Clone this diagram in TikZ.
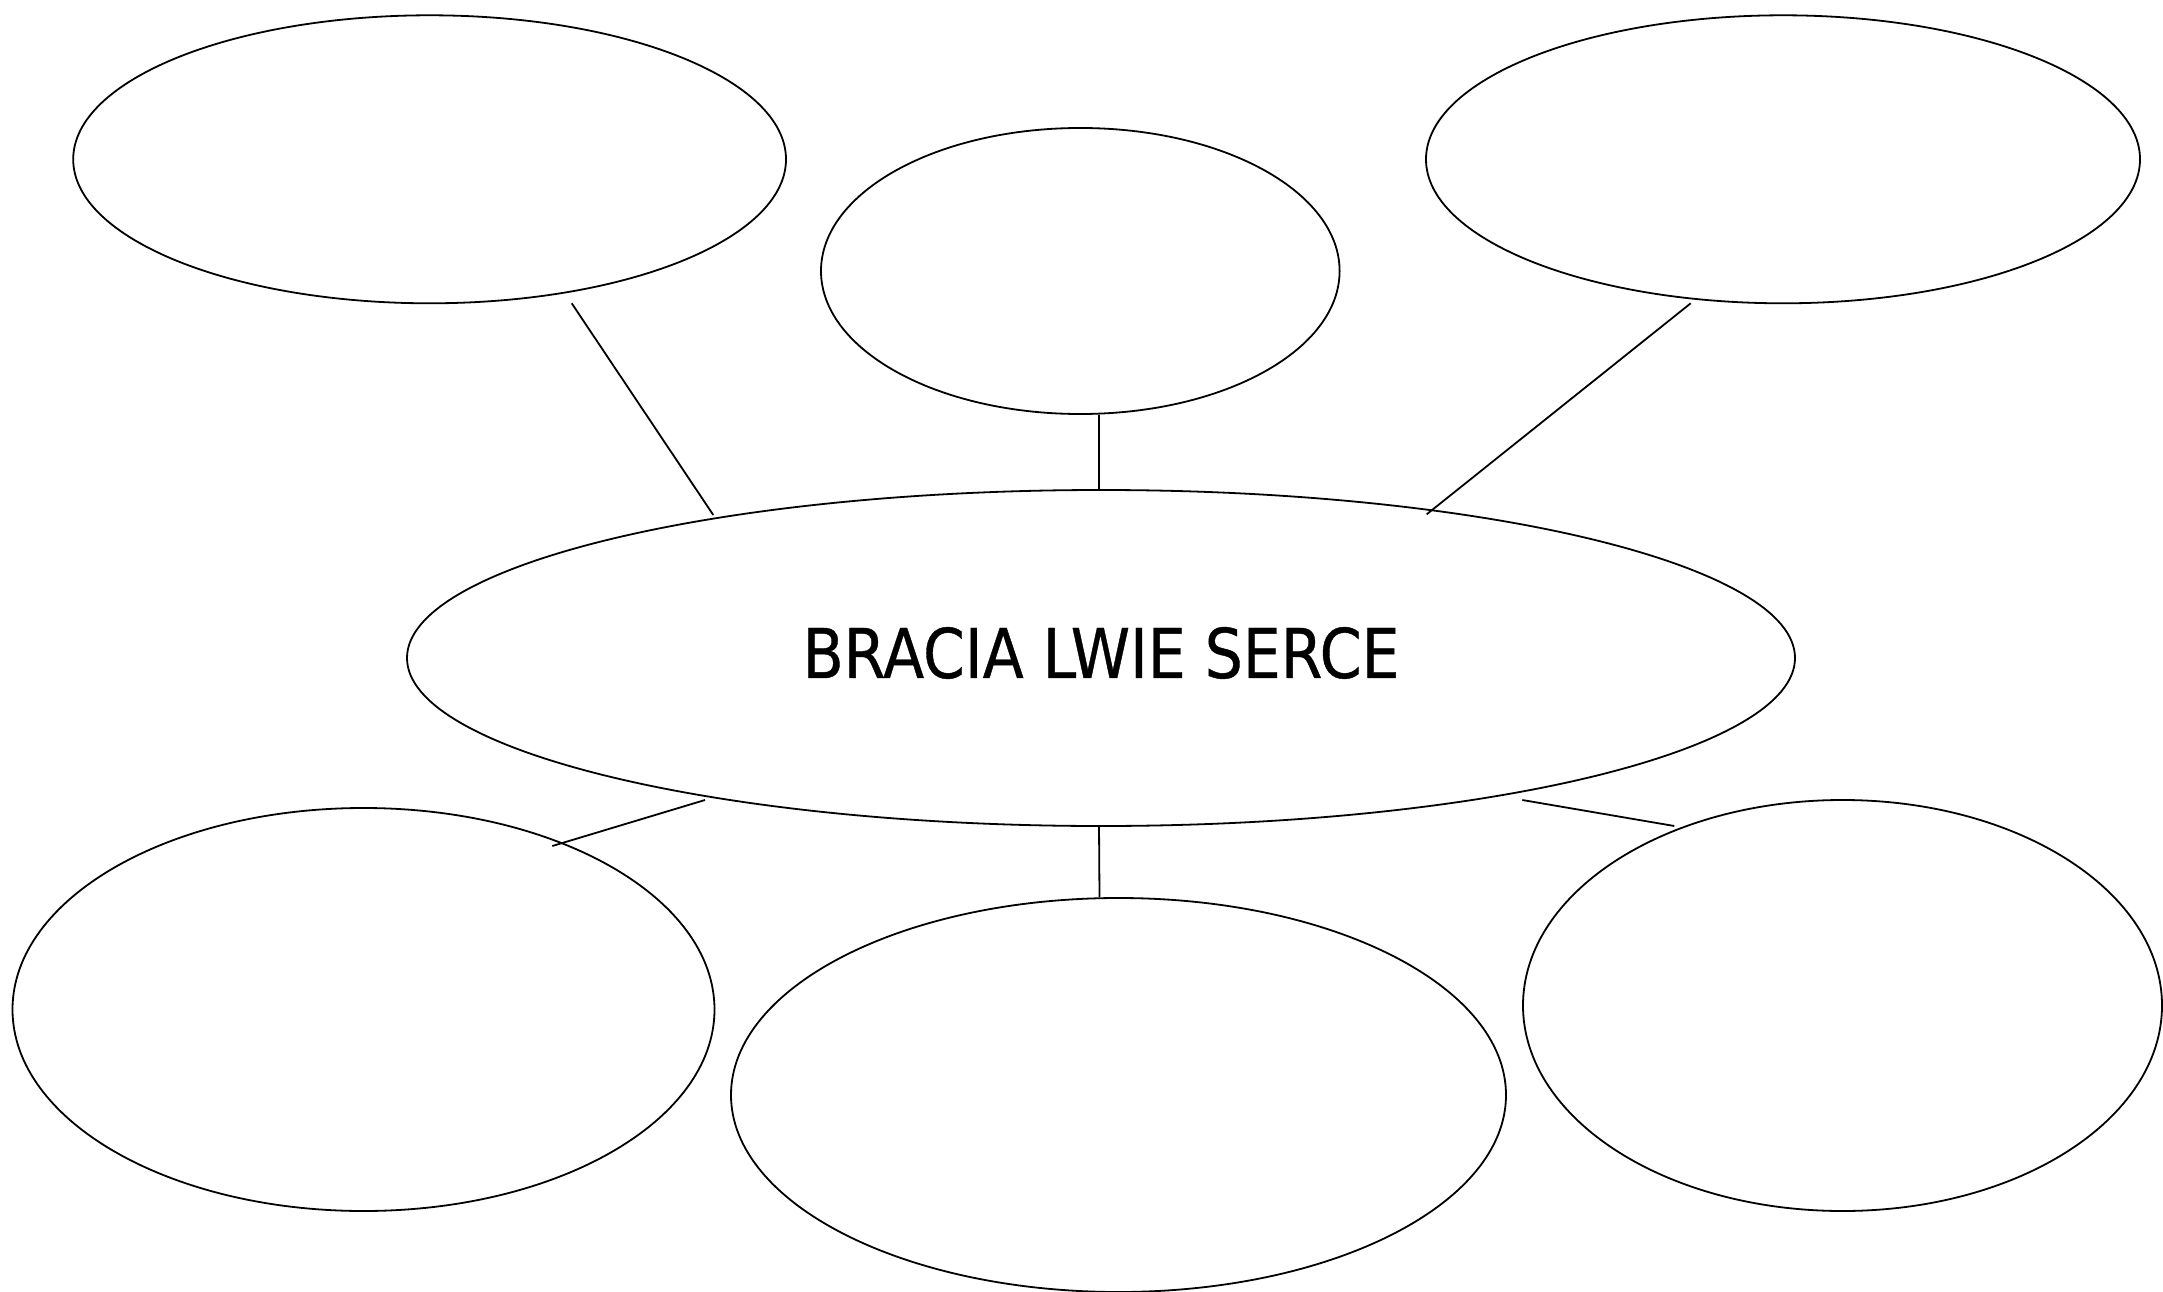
\documentclass[tikz,border=0pt]{standalone}
\usepackage{fontspec}
\setmainfont{DejaVu Sans}
\newfontfamily\titlefont[FakeBold=0.6]{DejaVu Sans}
\usetikzlibrary{shapes.geometric}
\tikzset{
  bubble/.style={draw=black, line width=1.8pt, ellipse, inner sep=0pt, outer sep=0pt},
  link/.style={draw=black, line width=1.8pt},
}
\begin{document}
\begin{tikzpicture}[x=1pt,y=-1pt]
\useasboundingbox (0,0) rectangle (2163,1292);
\fill[white] (0,0) rectangle (2163,1292);
% ellipses
\node[bubble, minimum width=712.8pt, minimum height=288pt] (tl) at (429.6,159.3) {};
\node[bubble, minimum width=518.6pt, minimum height=286pt] (tm) at (1080.3,271) {};
\node[bubble, minimum width=714pt, minimum height=288pt] (tr) at (1783,159.3) {};
\node[bubble, minimum width=1388pt, minimum height=336pt] (c) at (1101,658) {};
\node[bubble, minimum width=702pt, minimum height=403pt] (bl) at (363.5,1009.5) {};
\node[bubble, minimum width=775pt, minimum height=394pt] (bm) at (1118.5,1095) {};
\node[bubble, minimum width=639pt, minimum height=411pt] (br) at (1842.5,1005.5) {};
% title
\node[inner sep=0pt] (title) at (1101,653) {\titlefont\fontsize{68.6}{80}\selectfont\scalebox{0.875}[1]{BRACIA LWIE SERCE}};
% connector end points
\coordinate (a1) at (571.7,303.3); \coordinate (a2) at (713.3,515);
\coordinate (b1) at (1099,415);    \coordinate (b2) at (1099,491);
\coordinate (c1) at (1690.7,303.3); \coordinate (c2) at (1426.7,514.3);
\coordinate (d1) at (705,800);     \coordinate (d2) at (552.3,846);
\coordinate (e1) at (1099,825);    \coordinate (e2) at (1099.5,897);
\coordinate (f1) at (1522.3,800);  \coordinate (f2) at (1674.3,826);
\draw[link] (a1) -- (a2);
\draw[link] (b1) -- (b2);
\draw[link] (c1) -- (c2);
\draw[link] (d1) -- (d2);
\draw[link] (e1) -- (e2);
\draw[link] (f1) -- (f2);
\end{tikzpicture}
\end{document}
